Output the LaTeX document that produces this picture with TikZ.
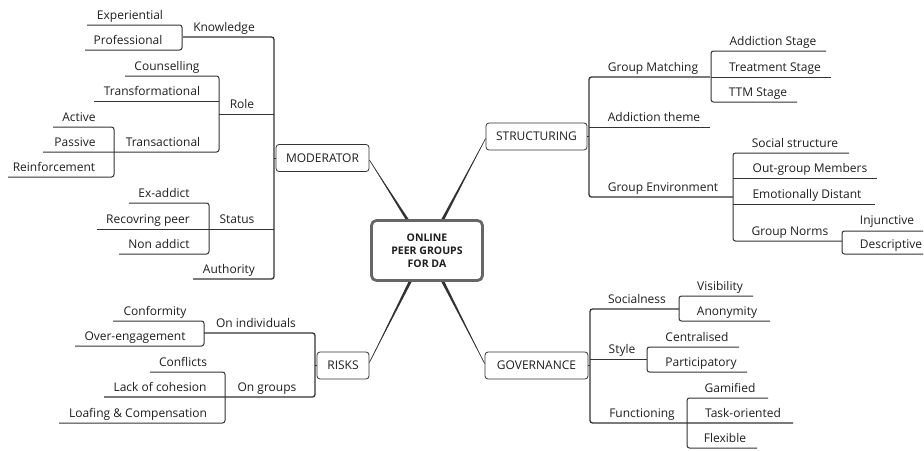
\documentclass[tikz,border=0pt]{standalone}
\usepackage{fontspec}
\setmainfont{Open Sans}
\usetikzlibrary{calc}
\definecolor{lncol}{HTML}{333333}
\definecolor{txtcol}{HTML}{1E1E1E}
\definecolor{ctrcol}{HTML}{666666}
\tikzset{
  lbl/.style={font=\fontsize{12}{14}\selectfont, text=txtcol, anchor=base, inner sep=0pt},
  br/.style={draw=lncol, line width=1pt, rounded corners=2.5pt},
  trunk/.style={draw=lncol, line width=1.3pt, rounded corners=2.5pt},
  topicbox/.style={draw=lncol, line width=0.8pt, rounded corners=3pt, inner sep=0pt,
    minimum height=27pt, font=\fontsize{12}{14}\selectfont, text=txtcol},
  centerbox/.style={draw=ctrcol, line width=2.8pt, rounded corners=5pt, inner sep=0pt,
    minimum width=111pt, minimum height=60pt, align=center,
    font=\fontsize{10.5}{13}\selectfont\bfseries, text=txtcol},
  conn/.style={draw=lncol, line width=0.6pt},
  connfill/.style={fill=lncol}
}
\begin{document}
\begin{tikzpicture}[x=1pt,y=-1pt]
\useasboundingbox (0,0) rectangle (924,450);

% ---------- main nodes ----------
\node[centerbox] (c) at (427,250.5) {ONLINE\\PEER GROUPS\\FOR DA};
\node[topicbox, minimum width=93pt] (mod) at (322.5,158) {MODERATOR};
\node[topicbox, minimum width=101pt] (str) at (536.5,136.5) {STRUCTURING};
\node[topicbox, minimum width=103pt] (gov) at (536.5,365.5) {GOVERNANCE};
\node[topicbox, minimum width=52pt] (risk) at (343,365.5) {RISKS};

% ---------- connectors to center (tapered) ----------
\coordinate (cm) at ($(c.north)+(-20,0)$);
\coordinate (cs) at ($(c.north)+(16,0)$);
\coordinate (cg) at ($(c.south)+(16,0)$);
\coordinate (cr) at ($(c.south)+(-17,0)$);
\coordinate (em) at ($(mod.east)+(0,2)$);
\coordinate (es) at ($(str.west)+(0,2)$);
\coordinate (eg) at ($(gov.west)+(0,-2)$);
\coordinate (er) at ($(risk.east)+(0,-3)$);
\draw[conn] (em) -- (cm);
\fill[connfill] (em) -- ($(cm)+(-1.6,0)$) -- ($(cm)+(1.6,0)$) -- cycle;
\draw[conn] (es) -- (cs);
\fill[connfill] (es) -- ($(cs)+(-1.6,0)$) -- ($(cs)+(1.6,0)$) -- cycle;
\draw[conn] (eg) -- (cg);
\fill[connfill] (eg) -- ($(cg)+(-1.6,0)$) -- ($(cg)+(1.6,0)$) -- cycle;
\draw[conn] (er) -- (cr);
\fill[connfill] (er) -- ($(cr)+(-1.6,0)$) -- ($(cr)+(1.6,0)$) -- cycle;

% ---------- MODERATOR tree ----------
\draw[trunk] (183,37) -- (274,37) -- (274,279) -- (193,279);
\draw[br] (219,114) -- (274,114);
\draw[br] (97,229) -- (274,229);
\draw[br] (274,158) -- (mod.west);
% Knowledge
\draw[br] (87,25) -- (182,25) -- (182,50) -- (85,50);
% Role
\draw[br] (125,76) -- (219,76) -- (219,152) -- (43,152);
\draw[br] (94,101) -- (219,101);
% Transactional
\draw[br] (53,127) -- (114,127) -- (114,177) -- (8,177);
% Status
\draw[br] (129,203) -- (209,203) -- (209,254) -- (119,254);

\node[lbl] (knowledge) at (224,31) {Knowledge};
\node[lbl] (experiential) at (130,19) {Experiential};
\node[lbl] (professional) at (128,44) {Professional};
\node[lbl] (role) at (242,108) {Role};
\node[lbl] (counselling) at (167,70) {Counselling};
\node[lbl] (transformational) at (152,95) {Transformational};
\node[lbl] (transactional) at (163,146) {Transactional};
\node[lbl] (active) at (79,121) {Active};
\node[lbl] (passive) at (75,146) {Passive};
\node[lbl] (reinforcement) at (54,171) {Reinforcement};
\node[lbl] (status) at (237,223) {Status};
\node[lbl] (exaddict) at (164,197) {Ex-addict};
\node[lbl] (recovring) at (148,223) {Recovring peer};
\node[lbl] (nonaddict) at (159,248) {Non addict};
\node[lbl] (authority) at (229,273) {Authority};

% ---------- RISKS tree ----------
\draw[trunk] (204,333) -- (315,333) -- (315,397) -- (104,397);
\draw[br] (315,365.5) -- (risk.west);
\draw[br] (113,321) -- (204,321) -- (204,346) -- (75,346);
\draw[br] (150,372) -- (225,372) -- (225,423) -- (59,423);

\node[lbl] (onind) at (256,327) {On individuals};
\node[lbl] (conformity) at (155,315) {Conformity};
\node[lbl] (overeng) at (135,340) {Over-engagement};
\node[lbl] (ongroups) at (267,391) {On groups};
\node[lbl] (conflicts) at (183,366) {Conflicts};
\node[lbl] (lackcoh) at (160,391) {Lack of cohesion};
\node[lbl] (loafing) at (138,417) {Loafing \& Compensation};

% ---------- STRUCTURING tree ----------
\draw[trunk] (710,77) -- (589,77) -- (589,197) -- (733,197);
\draw[br] (589,127) -- (710,127);
\draw[br] (str.east) -- (589,136.5);
\draw[br] (826,51) -- (711,51) -- (711,102) -- (797,102);
\draw[br] (711,77) -- (831,77);
\draw[br] (849,153) -- (733,153) -- (733,241) -- (842,241);
\draw[br] (733,178) -- (877,178);
\draw[br] (733,204) -- (875,204);
\draw[br] (923,231) -- (842,231) -- (842,254) -- (923,254);

\node[lbl] (gmatch) at (653,71) {Group Matching};
\node[lbl] (addtheme) at (654,121) {Addiction theme};
\node[lbl] (genv) at (663,191) {Group Environment};
\node[lbl] (addstage) at (773,45) {Addiction Stage};
\node[lbl] (treatstage) at (775,71) {Treatment Stage};
\node[lbl] (ttm) at (758,96) {TTM Stage};
\node[lbl] (socstruct) at (795,147) {Social structure};
\node[lbl] (outgroup) at (810,172) {Out-group Members};
\node[lbl] (emodist) at (807,198) {Emotionally Distant};
\node[lbl] (gnorms) at (790,235.5) {Group Norms};
\node[lbl] (injunctive) at (887,224.5) {Injunctive};
\node[lbl] (descriptive) at (891,248) {Descriptive};

% ---------- GOVERNANCE tree ----------
\draw[trunk] (679,309) -- (590,309) -- (590,423) -- (793,423);
\draw[br] (590,359) -- (647,359);
\draw[br] (gov.east) -- (590,365.5);
\draw[br] (753,296) -- (679,296) -- (679,321) -- (770,321);
\draw[br] (739,347) -- (647,347) -- (647,372) -- (747,372);
\draw[br] (768,398) -- (687,398) -- (687,448) -- (757,448);

\node[lbl] (socialness) at (637,303) {Socialness};
\node[lbl] (visibility) at (720,290) {Visibility};
\node[lbl] (anonymity) at (727,315) {Anonymity};
\node[lbl] (style) at (622,353) {Style};
\node[lbl] (centralised) at (697,341) {Centralised};
\node[lbl] (participatory) at (701,366) {Participatory};
\node[lbl] (functioning) at (642,417) {Functioning};
\node[lbl] (gamified) at (730,392) {Gamified};
\node[lbl] (taskor) at (743,417) {Task-oriented};
\node[lbl] (flexible) at (725,442) {Flexible};
\end{tikzpicture}
\end{document}
